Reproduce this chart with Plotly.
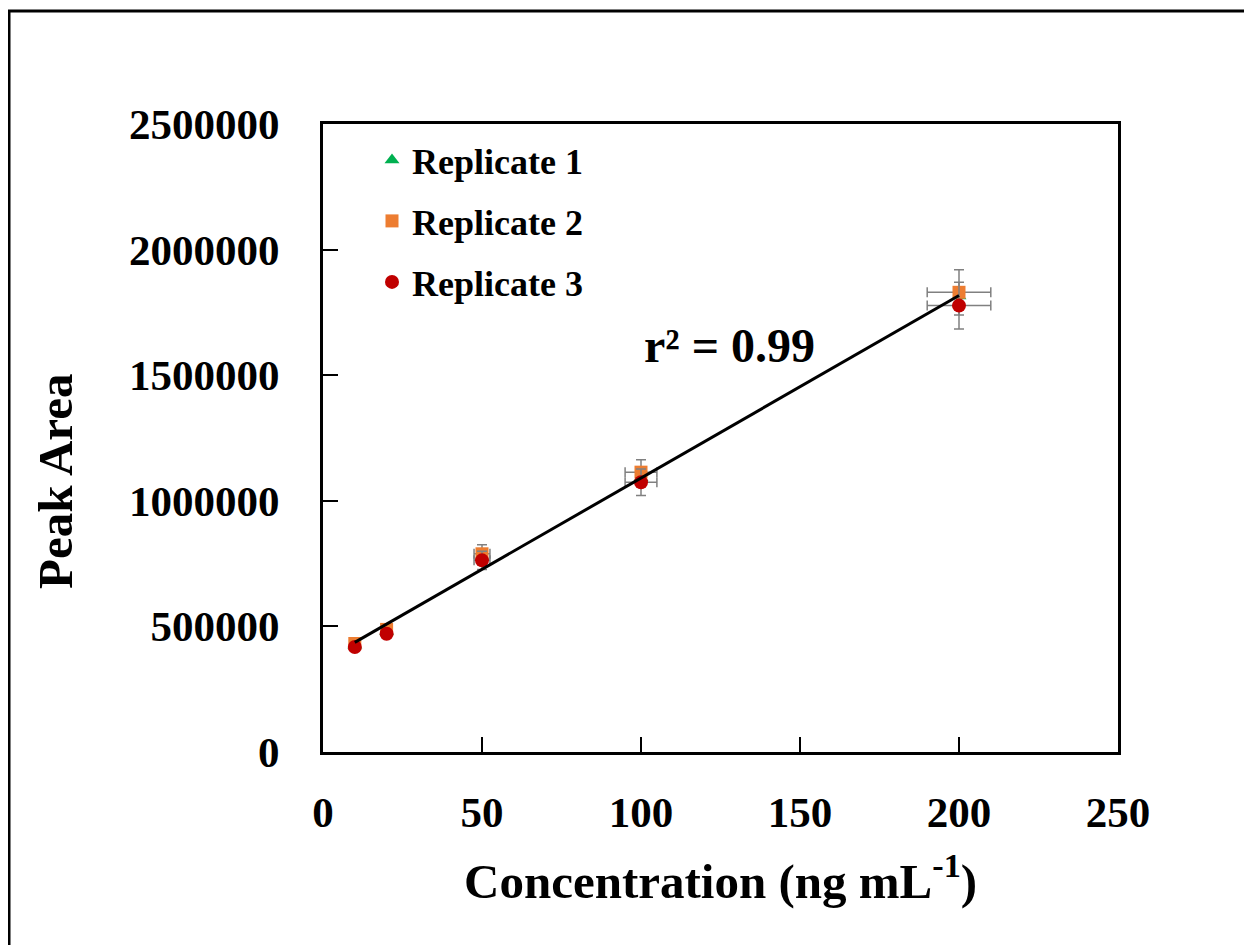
import numpy as np
import plotly.graph_objects as go

# ---- data ----
concentration = [10, 20, 50, 100, 200]
replicate1 = [425000, 480000, 775000, 1092000, 1815000]
replicate2 = [432000, 488000, 789000, 1114000, 1830000]
replicate3 = [418000, 471000, 763000, 1074000, 1777000]
rep2_yerr = [0, 0, 36000, 49000, 90000]
rep3_yerr = [0, 0, 36000, 53000, 93000]
xerr = [0, 0, 2.5, 5, 10]
series_names = ["Replicate 1", "Replicate 2", "Replicate 3"]
r2_label = "r² = 0.99"

FONT = "Liberation Serif, Times New Roman, serif"

# page offset (body margin) and plot-area geometry in page pixels
OFF = 8
W, H = 1252 - OFF, 945 - OFF
L, R, T, B = 323 - OFF, 1118 - OFF, 124 - OFF, 752 - OFF
pw, ph = R - L, B - T

def px_x(p):
    return (p - OFF - L) / pw

def px_y(p):
    return (B - (p - OFF)) / ph

fig = go.Figure()

err_style = dict(color="#808080", thickness=1.5, width=5)

fig.add_trace(go.Scatter(
    x=concentration, y=replicate1, mode="markers", name="<b>" + series_names[0] + "</b>",
    marker=dict(symbol="triangle-up", color="#00B050", size=13),
    legend="legend"))
fig.add_trace(go.Scatter(
    x=concentration, y=replicate2, mode="markers", name="<b>" + series_names[1] + "</b>",
    marker=dict(symbol="square", color="#ED7D31", size=13),
    error_y=dict(type="data", array=rep2_yerr, **err_style),
    error_x=dict(type="data", array=xerr, **err_style),
    legend="legend2"))
fig.add_trace(go.Scatter(
    x=concentration, y=replicate3, mode="markers", name="<b>" + series_names[2] + "</b>",
    marker=dict(symbol="circle", color="#C00000", size=14),
    error_y=dict(type="data", array=rep3_yerr, **err_style),
    error_x=dict(type="data", array=xerr, **err_style),
    legend="legend3"))

# linear trendline fitted on all replicates
xa = np.array(concentration * 3, dtype=float)
ya = np.array(replicate1 + replicate2 + replicate3, dtype=float)
slope, intercept = np.polyfit(xa, ya, 1)
xl = np.array([min(concentration), max(concentration)], dtype=float)
fig.add_trace(go.Scatter(
    x=xl, y=slope * xl + intercept, mode="lines",
    line=dict(color="black", width=3), showlegend=False, hoverinfo="skip"))

legend_common = dict(
    font=dict(family=FONT, size=36, color="black"),
    bgcolor="rgba(0,0,0,0)", borderwidth=0,
    xanchor="left", yanchor="middle", itemwidth=30)

annotations = [
    dict(text="<b>" + r2_label + "</b>", x=px_x(729), y=px_y(345),
         xref="paper", yref="paper", showarrow=False,
         font=dict(family=FONT, size=48, color="black"),
         xanchor="center", yanchor="middle"),
    dict(text="<b>Peak Area</b>", x=px_x(55), y=px_y(482),
         xref="paper", yref="paper", showarrow=False, textangle=-90,
         font=dict(family=FONT, size=49, color="black"),
         xanchor="center", yanchor="middle"),
    dict(text="<b>Concentration (ng mL<sup>-1</sup>)</b>", x=px_x(720), y=px_y(877),
         xref="paper", yref="paper", showarrow=False,
         font=dict(family=FONT, size=49, color="black"),
         xanchor="center", yanchor="middle"),
]

fig.update_layout(
    width=W, height=H,
    margin=dict(l=L, r=W - R, t=T, b=H - B, autoexpand=False),
    paper_bgcolor="white", plot_bgcolor="white",
    font=dict(family=FONT, color="black"),
    legend=dict(x=px_x(372), y=px_y(160), **legend_common),
    legend2=dict(x=px_x(372), y=px_y(221), **legend_common),
    legend3=dict(x=px_x(372), y=px_y(282), **legend_common),
    annotations=annotations,
    shapes=[dict(type="rect", xref="paper", yref="paper",
                 x0=px_x(9), x1=px_x(1300), y0=px_y(1000), y1=px_y(11),
                 line=dict(color="black", width=3), layer="below")],
    xaxis=dict(range=[0, 250], dtick=50, tick0=0,
               showline=True, linecolor="black", linewidth=3, mirror=True,
               ticks="inside", ticklen=15, tickwidth=2, tickcolor="black",
               showgrid=False, zeroline=False,
               tickfont=dict(family=FONT, size=43, color="black"),
               tickprefix="<b>", ticksuffix="</b>", ticklabelstandoff=20),
    yaxis=dict(range=[0, 2500000], dtick=500000, tick0=0,
               showline=True, linecolor="black", linewidth=3, mirror=True,
               ticks="inside", ticklen=15, tickwidth=2, tickcolor="black",
               showgrid=False, zeroline=False, tickformat="d",
               tickfont=dict(family=FONT, size=43, color="black"),
               tickprefix="<b>", ticksuffix="</b>", ticklabelstandoff=32),
)

fig.write_html("out.html")
